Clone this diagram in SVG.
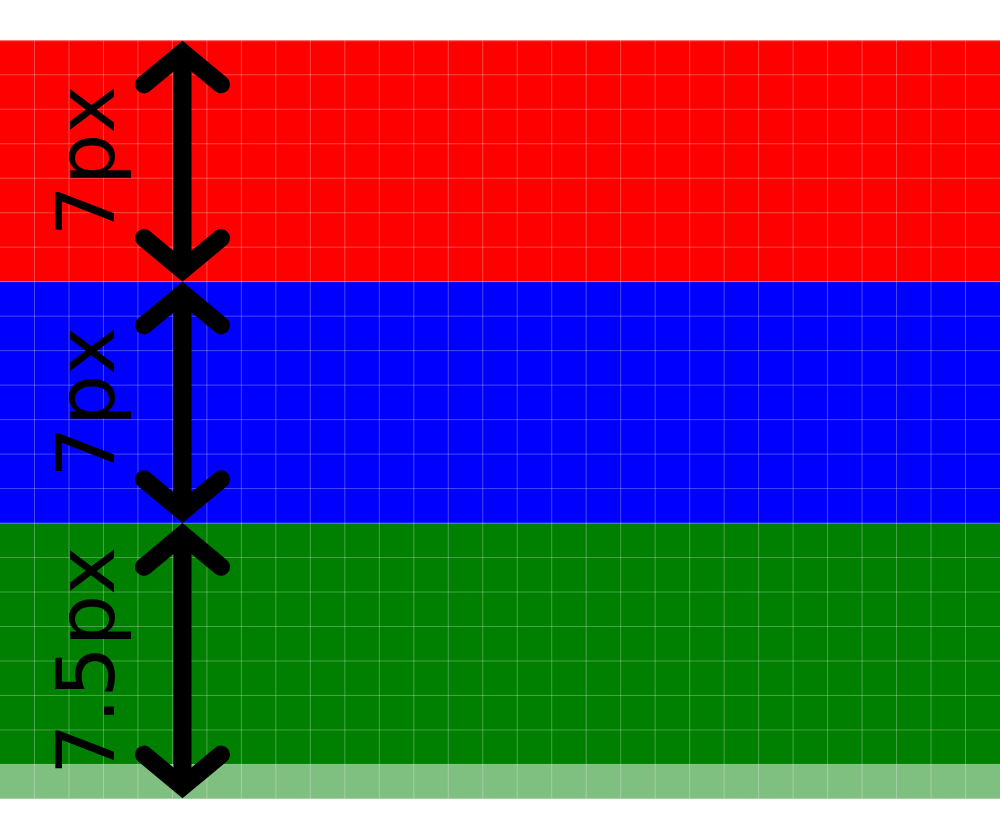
<svg xmlns="http://www.w3.org/2000/svg" width="1000" height="838" viewBox="0 0 1000 838">
<style>
.grid line{stroke:#ffffff;stroke-opacity:0.28;stroke-width:1}
.lbl{font-family:"DejaVu Sans",sans-serif;font-size:81px;fill:#000;text-anchor:middle}
.arm{fill:none;stroke:#000;stroke-width:18;stroke-linejoin:miter;stroke-miterlimit:10;stroke-linecap:round}
.shaft{fill:none;stroke:#000;stroke-width:18;stroke-linecap:butt}
</style>
<rect width="1000" height="838" fill="#ffffff"/>
<g id="bands">
<rect id="red" x="0" y="40.3" width="1000" height="241.4" fill="#ff0000"/>
<rect id="blue" x="0" y="281.7" width="1000" height="241.4" fill="#0000ff"/>
<rect id="green" x="0" y="523.1" width="1000" height="241.4" fill="#008000"/>
<rect id="green-half" x="0" y="764.5" width="1000" height="34.5" fill="#008000" fill-opacity="0.5"/>
</g>
<g class="grid">
<line x1="34.48" y1="40.3" x2="34.48" y2="799"/>
<line x1="68.97" y1="40.3" x2="68.97" y2="799"/>
<line x1="103.45" y1="40.3" x2="103.45" y2="799"/>
<line x1="137.93" y1="40.3" x2="137.93" y2="799"/>
<line x1="172.41" y1="40.3" x2="172.41" y2="799"/>
<line x1="206.9" y1="40.3" x2="206.9" y2="799"/>
<line x1="241.38" y1="40.3" x2="241.38" y2="799"/>
<line x1="275.86" y1="40.3" x2="275.86" y2="799"/>
<line x1="310.34" y1="40.3" x2="310.34" y2="799"/>
<line x1="344.83" y1="40.3" x2="344.83" y2="799"/>
<line x1="379.31" y1="40.3" x2="379.31" y2="799"/>
<line x1="413.79" y1="40.3" x2="413.79" y2="799"/>
<line x1="448.28" y1="40.3" x2="448.28" y2="799"/>
<line x1="482.76" y1="40.3" x2="482.76" y2="799"/>
<line x1="517.24" y1="40.3" x2="517.24" y2="799"/>
<line x1="551.72" y1="40.3" x2="551.72" y2="799"/>
<line x1="586.21" y1="40.3" x2="586.21" y2="799"/>
<line x1="620.69" y1="40.3" x2="620.69" y2="799"/>
<line x1="655.17" y1="40.3" x2="655.17" y2="799"/>
<line x1="689.66" y1="40.3" x2="689.66" y2="799"/>
<line x1="724.14" y1="40.3" x2="724.14" y2="799"/>
<line x1="758.62" y1="40.3" x2="758.62" y2="799"/>
<line x1="793.1" y1="40.3" x2="793.1" y2="799"/>
<line x1="827.59" y1="40.3" x2="827.59" y2="799"/>
<line x1="862.07" y1="40.3" x2="862.07" y2="799"/>
<line x1="896.55" y1="40.3" x2="896.55" y2="799"/>
<line x1="931.03" y1="40.3" x2="931.03" y2="799"/>
<line x1="965.52" y1="40.3" x2="965.52" y2="799"/>
<line x1="0" y1="40.8" x2="1000" y2="40.8"/>
<line x1="0" y1="74.78" x2="1000" y2="74.78"/>
<line x1="0" y1="109.27" x2="1000" y2="109.27"/>
<line x1="0" y1="143.75" x2="1000" y2="143.75"/>
<line x1="0" y1="178.23" x2="1000" y2="178.23"/>
<line x1="0" y1="212.71" x2="1000" y2="212.71"/>
<line x1="0" y1="247.2" x2="1000" y2="247.2"/>
<line x1="0" y1="281.68" x2="1000" y2="281.68"/>
<line x1="0" y1="316.16" x2="1000" y2="316.16"/>
<line x1="0" y1="350.64" x2="1000" y2="350.64"/>
<line x1="0" y1="385.13" x2="1000" y2="385.13"/>
<line x1="0" y1="419.61" x2="1000" y2="419.61"/>
<line x1="0" y1="454.09" x2="1000" y2="454.09"/>
<line x1="0" y1="488.58" x2="1000" y2="488.58"/>
<line x1="0" y1="523.06" x2="1000" y2="523.06"/>
<line x1="0" y1="557.54" x2="1000" y2="557.54"/>
<line x1="0" y1="592.02" x2="1000" y2="592.02"/>
<line x1="0" y1="626.51" x2="1000" y2="626.51"/>
<line x1="0" y1="660.99" x2="1000" y2="660.99"/>
<line x1="0" y1="695.47" x2="1000" y2="695.47"/>
<line x1="0" y1="729.95" x2="1000" y2="729.95"/>
<line x1="0" y1="764.44" x2="1000" y2="764.44"/>
<line x1="0" y1="798.5" x2="1000" y2="798.5"/>
</g>
<g id="connectors">
<g id="arrow-red">
<path class="shaft" d="M182.5,52.4 V270"/>
<path class="arm" d="M144,84.4 L182.5,52.4 L221,84.4"/>
<path class="arm" d="M144,238 L182.5,270 L221,238"/>
</g>
<g id="arrow-blue">
<path class="shaft" d="M182.5,293.4 V511.3"/>
<path class="arm" d="M144,325.4 L182.5,293.4 L221,325.4"/>
<path class="arm" d="M144,479.3 L182.5,511.3 L221,479.3"/>
</g>
<g id="arrow-green">
<path class="shaft" d="M182.5,534.8 V786.6"/>
<path class="arm" d="M144,566.8 L182.5,534.8 L221,566.8"/>
<path class="arm" d="M144,754.6 L182.5,786.6 L221,754.6"/>
</g>
</g>
<g id="label-red"><text class="lbl" transform="translate(114,161) rotate(-90)">7px</text></g>
<g id="label-blue"><text class="lbl" transform="translate(114,402.2) rotate(-90)">7px</text></g>
<g id="label-green"><text class="lbl" transform="translate(114,661) rotate(-90)">7.5px</text></g>
</svg>
